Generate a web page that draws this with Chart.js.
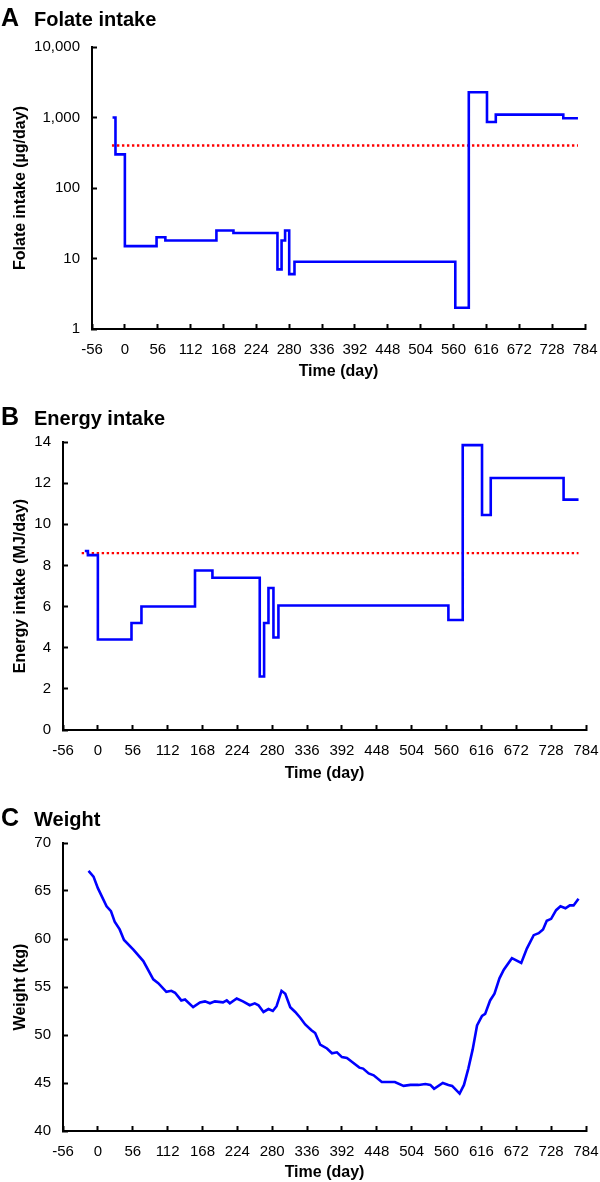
<!DOCTYPE html>
<html>
<head>
<meta charset="utf-8">
<script src="https://cdn.jsdelivr.net/npm/chart.js@4/dist/chart.umd.min.js"></script>
<style>
  body { margin: 0; background: #fff; }
  #page {
    position: relative;
    width: 600px;
    height: 1182px;
    font-family: "Liberation Sans", Arial, sans-serif;
    color: #000;
  }
  canvas { position: absolute; left: 0; }
  .head {
    position: absolute;
    left: 1px;
    display: flex;
    align-items: baseline;
    font-weight: bold;
    line-height: 1;
    z-index: 2;
  }
  .head .letter { font-size: 25px; width: 33px; }
  .head .name { font-size: 20px; }
</style>
</head>
<body>
<div id="page">
  <canvas id="folateChart" width="600" height="381" style="top:0px"></canvas>
  <canvas id="energyChart" width="600" height="383" style="top:400px"></canvas>
  <canvas id="weightChart" width="600" height="382" style="top:800px"></canvas>

  <div class="head" style="top:5px"><span class="letter">A</span><span class="name">Folate intake</span></div>
  <div class="head" style="top:404px"><span class="letter">B</span><span class="name">Energy intake</span></div>
  <div class="head" style="top:805px"><span class="letter">C</span><span class="name">Weight</span></div>
</div>

<script>
/* =========================
   DATA
========================= */

const timeTicks = [-56, 0, 56, 112, 168, 224, 280, 336, 392, 448, 504, 560, 616, 672, 728, 784];

// folate: each value starts on its day (step chart)
const folateDays = [-21, -16, 0, 54, 69, 156, 185, 260, 267, 273, 280, 289, 563, 586, 617, 632, 747, 772];
const folateValues = [1000, 300, 15, 20, 18, 25, 23, 7, 18, 25, 6, 9, 2, 2280, 865, 1100, 975, 975];
const folateRefDays = [-22, 772];
const folateRefValue = 400;
const folateTicks = [1, 10, 100, 1000, 10000];

const energyDays = [-21, -16, 0, 54, 70, 156, 184, 260, 267, 274, 282, 290, 563, 586, 617, 631, 748, 772];
const energyValues = [8.7, 8.5, 4.4, 5.2, 6.0, 7.75, 7.4, 2.6, 5.2, 6.9, 4.5, 6.05, 5.35, 13.85, 10.45, 12.25, 11.2, 11.2];
const energyRefDays = [-26, 772];
const energyRefValue = 8.6;
const energyTicks = [0, 2, 4, 6, 8, 10, 12, 14];

const weightDays = [
  -15, -7, 0, 14, 21, 27, 35, 42, 57, 73,
  89, 97, 110, 118, 124, 134, 140, 153, 164, 172,
  180, 188, 201, 207, 212, 223, 233, 244, 252, 258,
  266, 274, 281, 287, 295, 301, 309, 317, 325, 333,
  343, 349, 357, 368, 376, 384, 392, 400, 410, 420,
  426, 435, 443, 456, 464, 477, 491, 502, 515, 526,
  534, 540, 554, 563, 569, 581, 588, 595, 602, 609,
  617, 622, 630, 637, 645, 652, 665, 680, 689, 700,
  708, 715, 721, 728, 736, 743, 751, 758, 764, 772
];
const weightValues = [
  67.1, 66.5, 65.3, 63.4, 62.9, 61.8, 61.0, 59.9, 58.9, 57.7,
  55.8, 55.4, 54.5, 54.6, 54.4, 53.6, 53.7, 52.9, 53.4, 53.5,
  53.3, 53.5, 53.4, 53.6, 53.3, 53.8, 53.5, 53.1, 53.3, 53.1,
  52.4, 52.7, 52.5, 53.0, 54.6, 54.3, 52.9, 52.4, 51.8, 51.1,
  50.5, 50.2, 49.0, 48.6, 48.1, 48.2, 47.7, 47.6, 47.1, 46.6,
  46.5, 46.0, 45.8, 45.1, 45.1, 45.1, 44.7, 44.8, 44.8, 44.9,
  44.8, 44.4, 45.0, 44.8, 44.7, 43.9, 44.8, 46.5, 48.5, 51.0,
  52.0, 52.2, 53.6, 54.3, 55.9, 56.8, 58.0, 57.5, 59.0, 60.4,
  60.6, 61.0, 61.9, 62.1, 63.0, 63.4, 63.2, 63.5, 63.5, 64.2
];
const weightTicks = [40, 45, 50, 55, 60, 65, 70];

/* =========================
   HELPERS
========================= */

const FONT = '"Liberation Sans", Arial, sans-serif';

Chart.defaults.font.family = FONT;
Chart.defaults.color = "#000";

function toPoints(xs, ys) {
  return xs.map((x, i) => ({ x: x, y: ys[i] }));
}

function blueLine(points, stepped) {
  return {
    data: points,
    borderColor: "#0000FF",
    borderWidth: 2.6,
    pointRadius: 0,
    stepped: stepped ? "before" : false,
    tension: 0,
    fill: false
  };
}

function redDots(days, value) {
  return {
    data: days.map(d => ({ x: d, y: value })),
    borderColor: "#FF0000",
    borderWidth: 2.4,
    borderDash: [2.4, 2.6],
    pointRadius: 0,
    fill: false
  };
}

function buildChart(id, area, yLabel, yScale, datasets) {

  const canvas = document.getElementById(id);

  yScale.afterFit = s => {
    s.width = area.left;
    s.paddingTop = 0;
    s.paddingBottom = 0;
  };
  yScale.ticks = Object.assign(
    { padding: 17, font: { size: 15 }, color: "#000", autoSkip: false },
    yScale.ticks || {}
  );
  yScale.grid = { drawOnChartArea: false, tickLength: -5, tickWidth: 2, tickColor: "#000" };
  yScale.border = { color: "#000", width: 2 };
  yScale.title = {
    display: true,
    text: yLabel,
    color: "#000",
    font: { size: 16, weight: "bold" },
    padding: { top: 11, bottom: 0 }
  };

  return new Chart(canvas.getContext("2d"), {
    type: "line",
    data: { datasets: datasets },
    options: {
      responsive: false,
      animation: false,
      events: [],
      layout: {
        padding: { left: 0, top: area.top, right: 600 - area.right, bottom: 0 }
      },
      plugins: {
        legend: { display: false },
        tooltip: { enabled: false }
      },
      scales: {
        x: {
          type: "linear",
          min: -56,
          max: 784,
          afterBuildTicks: s => {
            s.ticks = timeTicks.map(v => ({ value: v }));
          },
          afterFit: s => {
            s.height = canvas.height - area.bottom;
            s.paddingLeft = 0;
            s.paddingRight = 0;
          },
          ticks: {
            autoSkip: false,
            maxRotation: 0,
            padding: 17,
            font: { size: 15 },
            color: "#000"
          },
          grid: { drawOnChartArea: false, tickLength: -5, tickWidth: 2, tickColor: "#000" },
          border: { color: "#000", width: 2 },
          title: {
            display: true,
            text: "Time (day)",
            color: "#000",
            font: { size: 16, weight: "bold" },
            padding: 0
          }
        },
        y: yScale
      }
    }
  });
}

/* =========================
   A  FOLATE
========================= */

buildChart(
  "folateChart",
  { left: 92, right: 585, top: 47, bottom: 329 },
  "Folate intake (µg/day)",
  {
    type: "logarithmic",
    min: 1,
    max: 10000,
    afterBuildTicks: s => {
      s.ticks = folateTicks.map(v => ({ value: v }));
    },
    ticks: {
      callback: v => Number(v).toLocaleString("en-US")
    }
  },
  [
    blueLine(toPoints(folateDays, folateValues), true),
    redDots(folateRefDays, folateRefValue)
  ]
);

/* =========================
   B  ENERGY
========================= */

buildChart(
  "energyChart",
  { left: 63, right: 586, top: 42, bottom: 330 },
  "Energy intake (MJ/day)",
  {
    type: "linear",
    min: 0,
    max: 14,
    afterBuildTicks: s => {
      s.ticks = energyTicks.map(v => ({ value: v }));
    }
  },
  [
    blueLine(toPoints(energyDays, energyValues), true),
    redDots(energyRefDays, energyRefValue)
  ]
);

/* =========================
   C  WEIGHT
========================= */

buildChart(
  "weightChart",
  { left: 63, right: 586, top: 43, bottom: 331 },
  "Weight (kg)",
  {
    type: "linear",
    min: 40,
    max: 70,
    afterBuildTicks: s => {
      s.ticks = weightTicks.map(v => ({ value: v }));
    }
  },
  [
    blueLine(toPoints(weightDays, weightValues), false)
  ]
);
</script>
</body>
</html>
